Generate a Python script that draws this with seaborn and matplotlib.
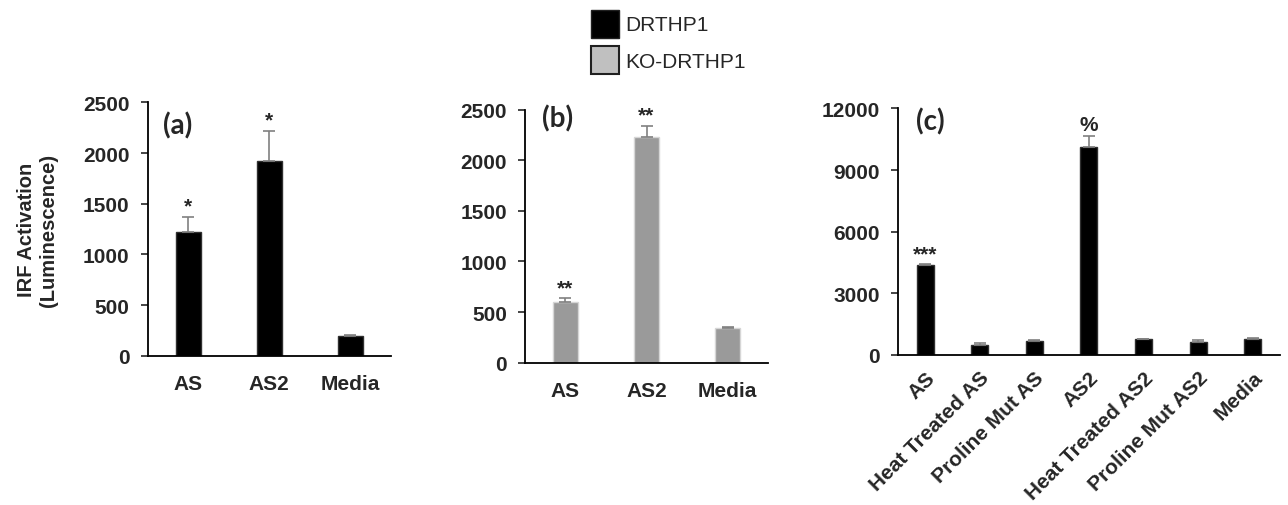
import numpy as np
import matplotlib
matplotlib.use('Agg')
import matplotlib.pyplot as plt
import seaborn as sns
from matplotlib.patches import Patch

sns.set_style('white')
plt.rcParams['font.family'] = ['Liberation Sans', 'DejaVu Sans']

# panel (a) - DRTHP1
cats_a = ['AS', 'AS2', 'Media']
vals_a = [1218, 1925, 197]
err_a = [155, 296, 10]
marks_a = ['*', '*', '']

# panel (b) - KO-DRTHP1
cats_b = ['AS', 'AS2', 'Media']
vals_b = [599, 2225, 342]
err_b = [36, 115, 10]
marks_b = ['**', '**', '']

# panel (c) - DRTHP1, treatments
cats_c = ['AS', 'Heat Treated AS', 'Proline Mut AS', 'AS2',
          'Heat Treated AS2', 'Proline Mut AS2', 'Media']
vals_c = [4366, 478, 658, 10137, 740, 610, 756]
err_c = [35, 80, 45, 540, 25, 110, 35]
marks_c = ['***', '', '', '%', '', '', '']

black = '#000000'
grey = '#9a9a9a'

fig = plt.figure(figsize=(12.88, 5.06), dpi=100)
ax_a = fig.add_axes([0.1147, 0.295, 0.1887, 0.5008])
ax_b = fig.add_axes([0.4076, 0.2812, 0.1887, 0.5004])
ax_c = fig.add_axes([0.6970, 0.2974, 0.2968, 0.4862])


def draw_panel(ax, cats, vals, errs, marks, color, edge, ymax, step, tag, tag_xy, rotate=False):
    sns.barplot(x=cats, y=vals, color=color, width=0.31, edgecolor=edge,
                linewidth=1, saturation=1, errorbar=None, ax=ax)
    xs = np.arange(len(cats))
    ax.errorbar(xs, vals, yerr=[np.zeros(len(vals)), errs], fmt='none',
                ecolor='#808080', elinewidth=1.2, capsize=4, capthick=1.2, zorder=1)
    for x, v, e, m in zip(xs, vals, errs, marks):
        if m:
            ax.text(x, v + e + ymax * 0.005, m, ha='center', va='bottom',
                    fontsize=15, fontweight='bold')
    ax.set_ylim(0, ymax)
    ax.set_xlim(-0.5, len(cats) - 0.5)
    ax.set_yticks(np.arange(0, ymax + 1, step))
    for s in ['top', 'right']:
        ax.spines[s].set_visible(False)
    for s in ['left', 'bottom']:
        ax.spines[s].set_color('black')
        ax.spines[s].set_linewidth(1.3)
    ax.tick_params(axis='y', left=True, direction='out', length=5, width=1.2,
                   labelsize=15, pad=8)
    ax.tick_params(axis='x', bottom=False, labelsize=15, pad=6 if rotate else 10)
    for lab in ax.get_yticklabels() + ax.get_xticklabels():
        lab.set_fontweight('bold')
    if rotate:
        for lab in ax.get_xticklabels():
            lab.set_rotation(45)
            lab.set_ha('right')
            lab.set_rotation_mode('anchor')
    ax.text(tag_xy[0], tag_xy[1], tag, transform=ax.transAxes, ha='left', va='top',
            fontsize=20, fontweight='bold', family=['Lato', 'DejaVu Sans'])


draw_panel(ax_a, cats_a, vals_a, err_a, marks_a, black, '#303030', 2500, 500, '(a)', (0.063, 0.965))
draw_panel(ax_b, cats_b, vals_b, err_b, marks_b, grey, '#d6d6d6', 2500, 500, '(b)', (0.069, 1.02))
draw_panel(ax_c, cats_c, vals_c, err_c, marks_c, black, '#303030', 12000, 3000, '(c)', (0.048, 1.005),
           rotate=True)

ax_a.set_ylabel('IRF Activation\n(Luminescence)', fontsize=14.5, fontweight='bold')
ax_a.yaxis.set_label_coords(-0.37, 0.5)

handles = [Patch(facecolor='black', edgecolor='#202020', label='DRTHP1'),
           Patch(facecolor='#c0c0c0', edgecolor='#202020', linewidth=1.5, label='KO-DRTHP1')]
fig.legend(handles=handles, loc='upper left', bbox_to_anchor=(0.459, 0.979),
           frameon=False, fontsize=15, handlelength=1.35, handleheight=1.7,
           handletextpad=0.3, labelspacing=0.38, borderpad=0, borderaxespad=0)

fig.savefig('out.png', dpi=100)
